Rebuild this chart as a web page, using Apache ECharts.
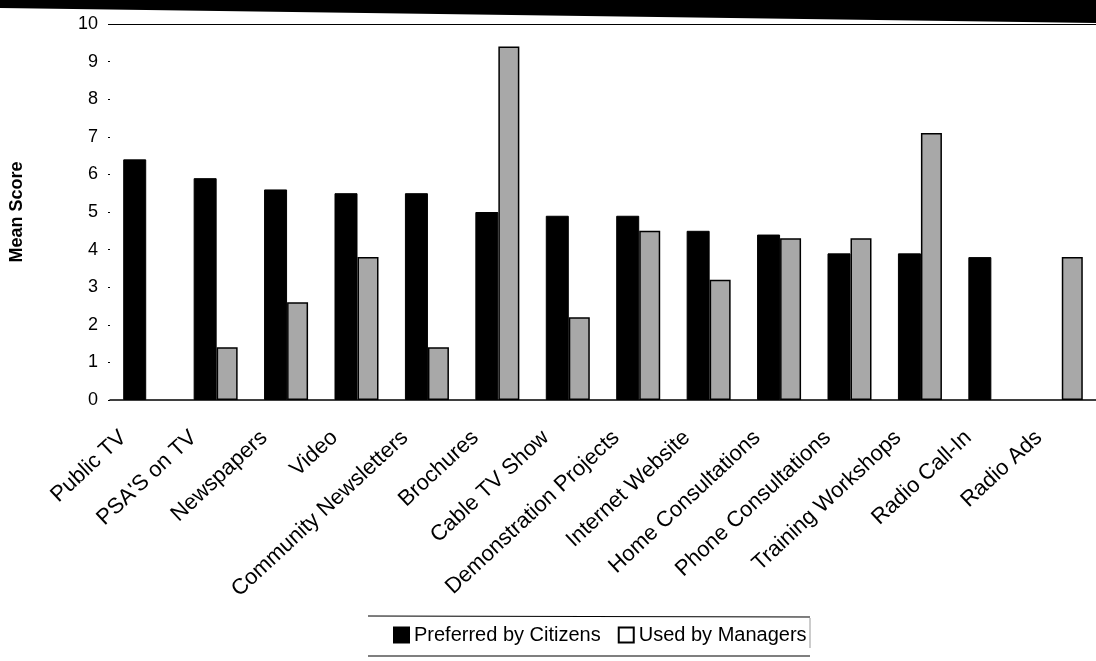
<!DOCTYPE html>
<html>
<head>
<meta charset="utf-8">
<script src="https://cdn.jsdelivr.net/npm/echarts@6/dist/echarts.min.js"></script>
<style>
html,body{margin:0;padding:0;background:#fff;}
#chart{width:1096px;height:661px;}
</style>
</head>
<body>
<div id="chart"></div>
<script>
const categories = ["Public TV", "PSA'S on TV", "Newspapers", "Video", "Community Newsletters", "Brochures", "Cable TV Show", "Demonstration Projects", "Internet Website", "Home Consultations", "Phone Consultations", "Training Workshops", "Radio Call-In", "Radio Ads"];
const preferredByCitizens = [6.4, 5.9, 5.6, 5.5, 5.5, 5.0, 4.9, 4.9, 4.5, 4.4, 3.9, 3.9, 3.8, null];
const usedByManagers = [null, 1.4, 2.6, 3.8, 1.4, 9.4, 2.2, 4.5, 3.2, 4.3, 4.3, 7.1, null, 3.8];
const yTicks = [0, 1, 2, 3, 4, 5, 6, 7, 8, 9, 10];
const seriesNames = ["Preferred by Citizens", "Used by Managers"];

const chart = echarts.init(document.getElementById('chart'), null, {renderer: 'canvas'});
const font = 'Liberation Sans, Arial, Helvetica, sans-serif';

chart.setOption({
  backgroundColor: '#fff',
  animation: false,
  textStyle: {fontFamily: font},
  graphic: [
    {type: 'polygon', shape: {points: [[0, 0], [1096, 0], [1096, 23], [0, 8]]}, style: {fill: '#000'}, silent: true},
    {type: 'line', shape: {x1: 368, y1: 616, x2: 810, y2: 617}, style: {stroke: '#000', lineWidth: 1.2}, silent: true},
    {type: 'line', shape: {x1: 368, y1: 656, x2: 810, y2: 656}, style: {stroke: '#000', lineWidth: 1.2}, silent: true},
    {type: 'line', shape: {x1: 810, y1: 618, x2: 810, y2: 648}, style: {stroke: '#999', lineWidth: 1}, silent: true}
  ],
  grid: {left: 107, right: -9, top: 24, height: 376, containLabel: false},
  legend: {
    left: 393, top: 625, padding: 0,
    itemWidth: 15, itemHeight: 15, itemGap: 17,
    icon: 'rect',
    textStyle: {fontSize: 20, color: '#000', fontFamily: font},
    data: [
      {name: seriesNames[0], itemStyle: {color: '#000'}},
      {name: seriesNames[1], itemStyle: {color: '#fff', borderColor: '#000', borderWidth: 2}}
    ]
  },
  xAxis: {
    type: 'category',
    data: categories,
    axisLine: {show: true, lineStyle: {color: '#000', width: 1.5}},
    axisTick: {show: false},
    axisLabel: {
      interval: 0, rotate: 43, margin: 14,
      padding: [0, 30, 0, 0],
      fontSize: 22, color: '#000', fontFamily: font
    }
  },
  yAxis: {
    type: 'value',
    min: 0, max: 10, interval: 1,
    name: 'Mean Score',
    nameLocation: 'middle',
    nameRotate: 90,
    nameGap: 84,
    nameTextStyle: {fontSize: 18, fontWeight: 'bold', color: '#000', fontFamily: font},
    axisLine: {show: false},
    axisTick: {show: true, length: 2, lineStyle: {color: '#000'}},
    splitLine: {show: false},
    axisLabel: {
      fontSize: 18, color: '#000', margin: 12, fontFamily: font,
      formatter: function (v) { return yTicks.indexOf(v) >= 0 ? String(v) : ''; }
    }
  },
  series: [
    {
      name: seriesNames[0], type: 'bar',
      data: preferredByCitizens,
      barWidth: 23, barGap: '0%',
      itemStyle: {color: '#000', borderColor: '#000', borderWidth: 1},
      markLine: {
        silent: true, symbol: 'none',
        label: {show: false},
        lineStyle: {color: '#000', type: 'solid', width: 1.2},
        data: [{yAxis: 10}]
      }
    },
    {
      name: seriesNames[1], type: 'bar',
      data: usedByManagers,
      barWidth: 21,
      itemStyle: {color: '#a8a8a8', borderColor: '#000', borderWidth: 1.5}
    }
  ]
});
</script>
</body>
</html>
